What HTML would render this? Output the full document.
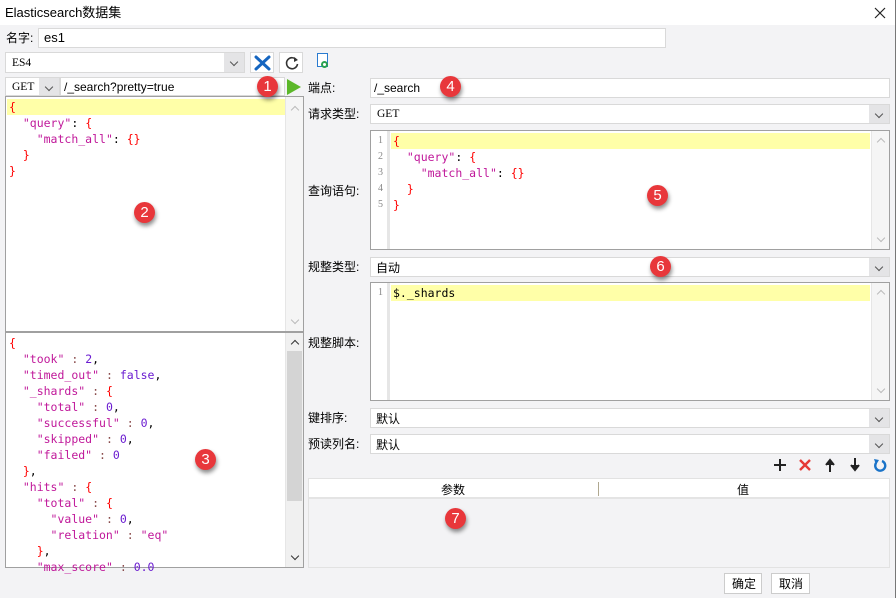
<!DOCTYPE html>
<html><head><meta charset="utf-8"><style>
*{box-sizing:border-box;margin:0;padding:0}
body{width:896px;height:598px;overflow:hidden;background:#f3f3f5;font-family:"Liberation Sans","Noto Sans CJK SC",sans-serif;font-size:12px;color:#000;position:relative}
.a{position:absolute}
.box{position:absolute;background:#fff;border:1px solid #d9d9d9}
.lbl{position:absolute;font-size:12px;line-height:14px}
.dd{position:absolute;top:0;right:0;bottom:0;width:20px;background:#e4e4e6;color:#555;font-size:10px;text-align:center}
.dd:after{content:"";position:absolute;left:7px;top:6px;width:5px;height:5px;border-right:1px solid #555;border-bottom:1px solid #555;transform:rotate(45deg)}
.ed{position:absolute;background:#fff;border:1px solid #a0a0a0}
.code{position:absolute;font-family:"DejaVu Sans Mono","Liberation Mono",monospace;font-size:11.5px;line-height:16px;white-space:pre;color:#000}
.yl{position:absolute;background:#ffffa8;height:16px}
.sb{position:absolute;top:0;bottom:0;width:18px;right:0;background:#f5f5f5;border-left:1px solid #e6e6e6}
.sb i{position:absolute;left:6px;width:6px;height:6px;border-left:1px solid #bbb;border-top:1px solid #bbb}
.r{color:#f00}.p{color:#c0189a}.n{color:#6a1bd0}.k{color:#8a4c4c}
.bd{position:absolute;width:21px;height:21px;border-radius:50%;background:#e8373b;color:#fff;font-size:15px;line-height:21px;text-align:center;box-shadow:1px 3px 4px rgba(0,0,0,.45);font-family:"Liberation Sans",sans-serif}
.gut{position:absolute;left:0;top:0;bottom:0;width:19px;background:#fff;border-right:3px solid #e6e6e6;color:#888;font-family:"Liberation Serif",serif;font-size:10px;line-height:16px;text-align:right;padding-right:4px;padding-top:2px}
</style></head><body>
<div class="a" style="left:0;top:0;width:896px;height:25px;background:#fff"></div>
<div class="lbl" style="left:5px;top:6px;font-size:13px">Elasticsearch数据集</div>
<svg class="a" style="left:874px;top:7px" width="12" height="12"><path d="M1 1L11 11M11 1L1 11" stroke="#222" stroke-width="1.2"/></svg>
<div class="a" style="right:0;top:0;width:1px;height:598px;background:#777"></div>

<div class="lbl" style="left:6px;top:31px">名字:</div>
<div class="box" style="left:38px;top:28px;width:628px;height:20px"><span class="lbl" style="left:5px;top:2px;font-size:13px">es1</span></div>

<div class="box" style="left:5px;top:52px;width:240px;height:21px"><span class="code" style="left:6px;top:2px;font-family:'Liberation Serif',serif">ES4</span><div class="dd"></div></div>
<div class="box" style="left:250px;top:52px;width:24px;height:21px">
<svg class="a" style="left:3px;top:2px" width="17" height="16"><path d="M2 2L15 14M15 2L2 14" stroke="#1565c0" stroke-width="3" stroke-linecap="round"/></svg></div>
<div class="box" style="left:279px;top:52px;width:24px;height:21px">
<svg class="a" style="left:4px;top:2px" width="16" height="16"><path d="M12.5 5A5.5 5.5 0 1 0 13.5 9" fill="none" stroke="#333" stroke-width="1.6"/><path d="M10 2L14 5L10 7Z" fill="#333"/></svg></div>
<div class="a" style="left:317px;top:53px;width:11px;height:14px;border:1.5px solid #2a7bd0;background:#fff"></div>
<div class="a" style="left:321px;top:61px;width:7px;height:7px;border:2px solid #2aa050;border-radius:50%"></div>

<div class="box" style="left:5px;top:77px;width:55px;height:19px"><span class="code" style="left:6px;top:1px;font-family:'Liberation Serif',serif">GET</span><div class="dd" style="width:20px"></div></div>
<div class="box" style="left:60px;top:77px;width:225px;height:19px"><span class="lbl" style="left:3px;top:2px">/_search?pretty=true</span></div>
<div class="a" style="left:287px;top:79px;width:0;height:0;border-left:14px solid #5cb82a;border-top:8px solid transparent;border-bottom:8px solid transparent"></div>

<div class="ed" style="left:5px;top:96px;width:299px;height:236px">
<div class="yl" style="left:1px;top:2px;width:280px"></div>
<div class="code" style="left:3px;top:2px"><span class="r">{</span>
  <span class="p">"query"</span>: <span class="r">{</span>
    <span class="p">"match_all"</span>: <span class="r">{}</span>
  <span class="r">}</span>
<span class="r">}</span></div>
<div class="sb"><i style="top:10px;transform:rotate(45deg)"></i><i style="bottom:8px;transform:rotate(225deg)"></i></div>
</div>

<div class="ed" style="left:5px;top:332px;width:299px;height:236px">
<div class="code" style="left:3px;top:2px"><span class="r">{</span>
  <span class="p">"took"</span> <span class="k">:</span> <span class="n">2</span>,
  <span class="p">"timed_out"</span> <span class="k">:</span> <span class="n">false</span>,
  <span class="p">"_shards"</span> <span class="k">:</span> <span class="r">{</span>
    <span class="p">"total"</span> <span class="k">:</span> <span class="n">0</span>,
    <span class="p">"successful"</span> <span class="k">:</span> <span class="n">0</span>,
    <span class="p">"skipped"</span> <span class="k">:</span> <span class="n">0</span>,
    <span class="p">"failed"</span> <span class="k">:</span> <span class="n">0</span>
  <span class="r">}</span>,
  <span class="p">"hits"</span> <span class="k">:</span> <span class="r">{</span>
    <span class="p">"total"</span> <span class="k">:</span> <span class="r">{</span>
      <span class="p">"value"</span> <span class="k">:</span> <span class="n">0</span>,
      <span class="p">"relation"</span> <span class="k">:</span> <span class="p">"eq"</span>
    <span class="r">}</span>,
    <span class="p">"max_score"</span> <span class="k">:</span> <span class="n">0.0</span></div>
<div class="sb" style="background:#f0f0f0"><div class="a" style="left:1px;right:1px;top:18px;height:150px;background:#d4d4d4"></div><i style="top:8px;transform:rotate(45deg);border-color:#333"></i><i style="bottom:8px;transform:rotate(225deg);border-color:#333"></i></div>
</div>

<div class="lbl" style="left:308px;top:81px">端点:</div>
<div class="box" style="left:370px;top:78px;width:520px;height:20px"><span class="lbl" style="left:3px;top:2px">/_search</span></div>
<div class="lbl" style="left:308px;top:107px">请求类型:</div>
<div class="box" style="left:370px;top:104px;width:520px;height:20px"><span class="code" style="left:6px;top:1px;font-family:'Liberation Serif',serif">GET</span><div class="dd"></div></div>

<div class="lbl" style="left:308px;top:184px">查询语句:</div>
<div class="ed" style="left:370px;top:130px;width:520px;height:120px">
<div class="gut">1<br>2<br>3<br>4<br>5</div>
<div class="yl" style="left:20px;top:2px;width:479px"></div>
<div class="code" style="left:22px;top:2px"><span class="r">{</span>
  <span class="p">"query"</span>: <span class="r">{</span>
    <span class="p">"match_all"</span>: <span class="r">{}</span>
  <span class="r">}</span>
<span class="r">}</span></div>
<div class="sb"><i style="top:8px;transform:rotate(45deg)"></i><i style="bottom:8px;transform:rotate(225deg)"></i></div>
</div>

<div class="lbl" style="left:308px;top:260px">规整类型:</div>
<div class="box" style="left:370px;top:257px;width:520px;height:20px"><span class="lbl" style="left:5px;top:3px">自动</span><div class="dd"></div></div>

<div class="lbl" style="left:308px;top:336px">规整脚本:</div>
<div class="ed" style="left:370px;top:282px;width:520px;height:119px">
<div class="gut">1</div>
<div class="yl" style="left:20px;top:2px;width:479px"></div>
<div class="code" style="left:22px;top:2px">$._shards</div>
<div class="sb"><i style="top:8px;transform:rotate(45deg)"></i><i style="bottom:8px;transform:rotate(225deg)"></i></div>
</div>

<div class="lbl" style="left:308px;top:411px">键排序:</div>
<div class="box" style="left:370px;top:408px;width:520px;height:20px"><span class="lbl" style="left:5px;top:3px">默认</span><div class="dd"></div></div>
<div class="lbl" style="left:308px;top:437px">预读列名:</div>
<div class="box" style="left:370px;top:434px;width:520px;height:20px"><span class="lbl" style="left:5px;top:3px">默认</span><div class="dd"></div></div>

<svg class="a" style="left:772px;top:457px" width="120" height="16">
<path d="M2 8H14M8 2V14" stroke="#222" stroke-width="2"/>
<path d="M28 3L38 13M38 3L28 13" stroke="#e53935" stroke-width="2.4"/>
<path d="M58 15V4M54 8L58 3L62 8" stroke="#222" stroke-width="2" fill="#222"/>
<path d="M83 1V12M79 8L83 13L87 8" stroke="#222" stroke-width="2" fill="#222"/>
<path d="M110 4A5 5 0 1 1 104 6" fill="none" stroke="#1a73c8" stroke-width="2.4"/><path d="M102 2L107 3L104 8Z" fill="#1a73c8"/>
</svg>

<div class="a" style="left:308px;top:478px;width:582px;height:90px;border:1px solid #e2e2e2;background:#f3f3f5"></div>
<div class="a" style="left:309px;top:479px;width:580px;height:20px;background:#fff;border-bottom:2px solid #e4e4e4"></div>
<div class="a" style="left:598px;top:482px;width:1px;height:14px;background:#b0a890"></div>
<div class="lbl" style="left:441px;top:483px">参数</div>
<div class="lbl" style="left:737px;top:483px">值</div>

<div class="box" style="left:724px;top:573px;width:38px;height:21px;border-color:#ccc"><span class="lbl" style="left:7px;top:3px">确定</span></div>
<div class="box" style="left:771px;top:573px;width:39px;height:21px;border-color:#ccc"><span class="lbl" style="left:7px;top:3px">取消</span></div>

<div class="bd" style="left:257px;top:76px">1</div>
<div class="bd" style="left:134px;top:202px">2</div>
<div class="bd" style="left:195px;top:449px">3</div>
<div class="bd" style="left:440px;top:76px">4</div>
<div class="bd" style="left:647px;top:185px">5</div>
<div class="bd" style="left:650px;top:256px">6</div>
<div class="bd" style="left:445px;top:508px">7</div>
</body></html>
